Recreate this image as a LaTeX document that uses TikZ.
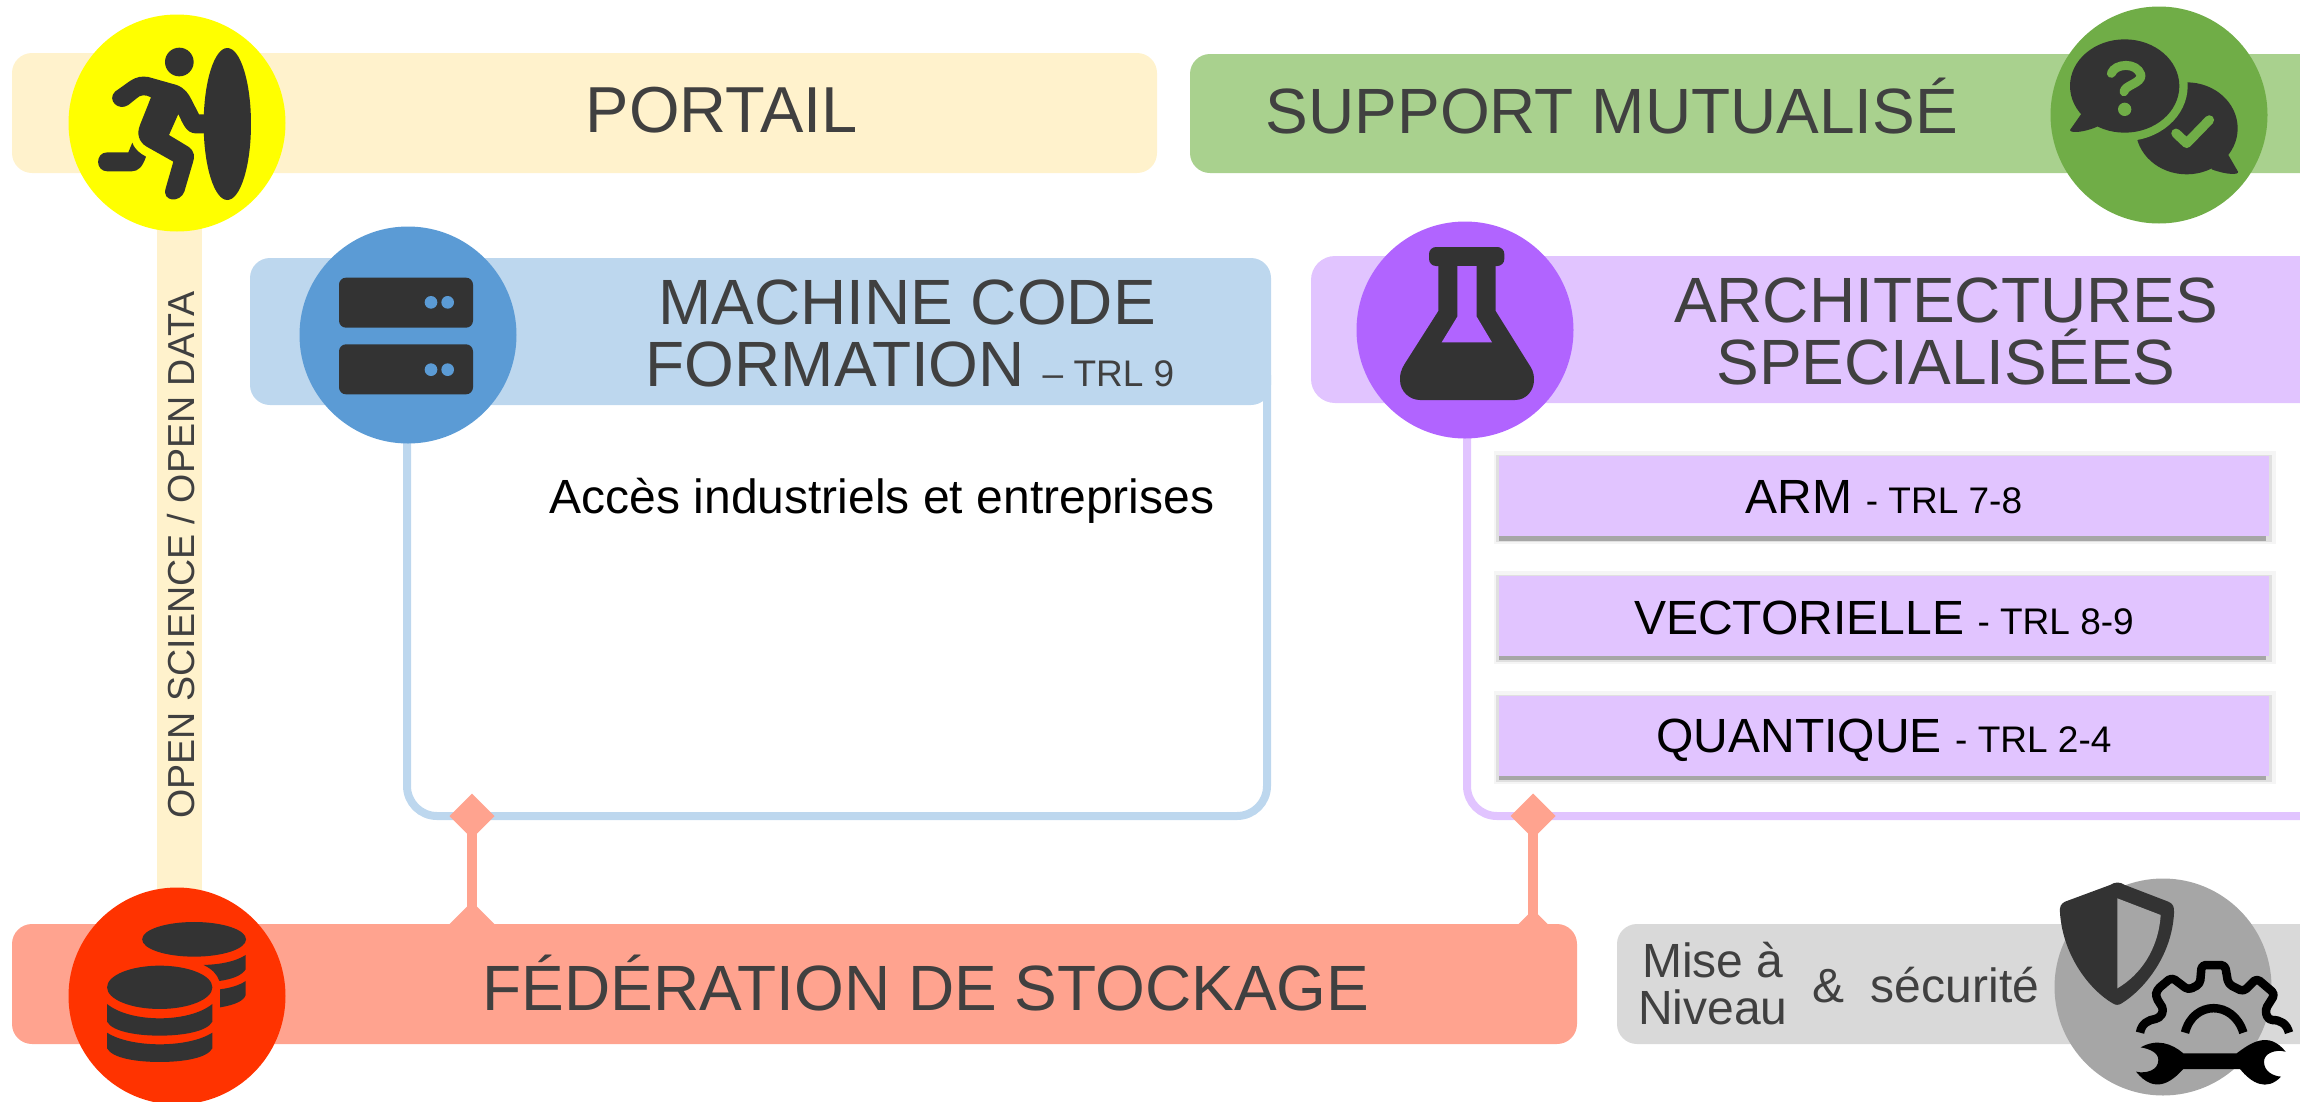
\documentclass[tikz,border=0pt]{standalone}
\usepackage{fontspec}
\setmainfont{Liberation Sans}
\usetikzlibrary{shapes.geometric}
\definecolor{portailL}{HTML}{FFF2CC}
\definecolor{portailD}{HTML}{FFFF00}
\definecolor{suppL}{HTML}{A9D18E}
\definecolor{suppD}{HTML}{70AD47}
\definecolor{machL}{HTML}{BDD7EE}
\definecolor{machD}{HTML}{5B9BD5}
\definecolor{archL}{HTML}{E1C4FF}
\definecolor{archD}{HTML}{B164FF}
\definecolor{fedL}{HTML}{FFA38F}
\definecolor{fedD}{HTML}{FF3300}
\definecolor{grayL}{HTML}{D9D9D9}
\definecolor{grayD}{HTML}{A6A6A6}
\definecolor{ink}{HTML}{333333}
\definecolor{txt}{HTML}{404040}
\newcommand{\fhuge}{\fontsize{65}{60}\selectfont}
\newcommand{\fbig}{\fontsize{64}{60}\selectfont}
\newcommand{\fmid}{\fontsize{48}{47}\selectfont}
\newcommand{\fsm}{\fontsize{37}{36}\selectfont}
\tikzset{
  bar/.style={inner sep=0pt,outer sep=0pt,rounded corners=20pt,minimum height=#1},
  disc/.style={circle,inner sep=0pt,outer sep=0pt,minimum size=217pt},
  tlabel/.style={inner sep=0pt,outer sep=0pt,anchor=base,align=center,text=txt},
  frameline/.style={line width=8pt,rounded corners=30pt},
  dia/.style={diamond,fill=fedL,inner sep=0pt,outer sep=0pt,minimum width=45pt,minimum height=45pt,aspect=1},
  link/.style={draw=fedL,line width=9.5pt},
  subbox/.style={fill=archL,inner sep=0pt,outer sep=0pt,minimum width=770pt,minimum height=80pt},
}
\begin{document}
\begin{tikzpicture}[x=1pt,y=-1pt]
\useasboundingbox (0,0) rectangle (2300,1101);
\clip (0,0) rectangle (2300,1101);
% bars
\node[bar=120pt,fill=portailL,minimum width=1145pt] (portail) at (584.5,113) {};
\fill[portailL] (157,200) rectangle (202,900);
\path[fill=suppL] (2300,173) [rounded corners=20pt] -- (1190,173) -- (1190,54) [sharp corners] -- (2300,54) -- cycle;
% frames
\draw[frameline,draw=machL] (407,400) -- (407,816) -- (1267,816) -- (1267,375);
\draw[frameline,draw=archL] (1467,400) -- (1467,816) -- (2300,816);
\node[bar=147pt,fill=machL,minimum width=1021pt] (machine) at (760.5,331.5) {};
\path[fill=archL] (2300,403) [rounded corners=24pt] -- (1311,403) -- (1311,256) [sharp corners] -- (2300,256) -- cycle;
\node[bar=120pt,fill=fedL,minimum width=1565pt] (fed) at (794.5,984) {};
\path[fill=grayL] (2300,1044) [rounded corners=20pt] -- (1617,1044) -- (1617,924) [sharp corners] -- (2300,924) -- cycle;
% sub boxes with shadow
\foreach \yy in {496,615.5,735.5}{
  \fill[black!4] (1494,\yy-45) rectangle (2276,\yy+48);
  \fill[black!12] (1496,\yy-41) rectangle (2272,\yy+46);
  \fill[black!35] (1499,\yy) rectangle (2266,\yy+44.5);
}
\node[subbox] (arm) at (1884,496) {};
\node[subbox] (vect) at (1884,615.5) {};
\node[subbox] (quant) at (1884,735.5) {};
% discs
\node[disc,fill=portailD] (d1) at (177,123) {};
\node[disc,fill=suppD] (d2) at (2159,115) {};
\node[disc,fill=machD] (d3) at (408,335) {};
\node[disc,fill=archD] (d4) at (1465,330) {};
\node[disc,fill=fedD] (d5) at (177,996) {};
\node[disc,fill=grayD] (d6) at (2163,987) {};
% connectors
\node[dia] (dia1) at (472,816) {};
\node[dia] (dia2) at (1533,816) {};
\node[dia] (foot1) at (472,924) {};
\node[dia] (foot2) at (1533,932) {};
\draw[link] (dia1.center) -- (foot1.center);
\draw[link] (dia2.center) -- (foot2.center);
% texts
\node[tlabel] (tportail) at (722,132) {\fhuge PORTAIL};
\node[tlabel] (tsupport) at (1612,133) {\fbig SUPPORT MUTUALISÉ};
\node[tlabel] (tm1) at (907,324) {\fbig MACHINE CODE};
\node[tlabel] (tm2) at (910,386) {\fbig FORMATION {\fsm – TRL 9}};
\node[tlabel] (ta1) at (1946,322) {\fbig ARCHITECTURES};
\node[tlabel] (ta2) at (1946,384) {\fbig SPECIALISÉES};
\node[tlabel,text=black] (tacc) at (882,513) {\fmid Accès industriels et entreprises};
\node[tlabel,text=black] (tarm) at (1884,513) {\fmid ARM {\fsm - TRL 7-8}};
\node[tlabel,text=black] (tvect) at (1884,634) {\fmid VECTORIELLE {\fsm - TRL 8-9}};
\node[tlabel,text=black] (tquant) at (1884,752) {\fmid QUANTIQUE {\fsm - TRL 2-4}};
\node[tlabel] (tfed) at (926,1010) {\fbig FÉDÉRATION DE STOCKAGE};
\node[tlabel] (tmise1) at (1713,977) {\fmid Mise à};
\node[tlabel] (tmise2) at (1713,1024) {\fmid Niveau};
\node[tlabel] (tamp) at (1828,1002) {\fmid \&};
\node[tlabel] (tsec) at (1955,1002) {\fmid sécurité};
\node[tlabel,rotate=90] (topen) at (194,555) {\fontsize{37.6}{38}\selectfont OPEN SCIENCE / OPEN DATA};
% runner icon
\begin{scope}[scale=1/3]
\fill[ink] (538,186) circle (43);
\fill[ink] (682,372) ellipse (71 and 228);
\fill[ink] (345,275) -- (390,243) .. controls (410,230) and (425,228) .. (445,231) -- (530,255) .. controls (555,265) and (565,280) .. (575,300) -- (597,343) -- (615,343) -- (615,400) -- (585,400) .. controls (560,398) and (550,375) .. (535,342) -- (507,405) -- (565,440) .. controls (585,455) and (585,470) .. (578,490) -- (553,575) .. controls (540,610) and (485,605) .. (497,565) -- (520,485) -- (440,440) .. controls (415,425) and (410,400) .. (420,375) -- (453,292) .. controls (435,282) and (420,285) .. (410,295) -- (385,315) .. controls (355,335) and (320,300) .. (345,275) -- cycle;
\fill[ink] (322,457) -- (385,457) -- (397,428) .. controls (405,450) and (420,460) .. (438,470) .. controls (428,500) and (415,514) .. (395,514) -- (322,514) .. controls (285,514) and (285,457) .. (322,457) -- cycle;
\end{scope}
% speech bubbles
\begin{scope}[shift={(1950,0)},scale=1/3]
\fill[ink] (710,385) ellipse (153 and 138);
\fill[ink] (835,465) -- (864,515) .. controls (868,525) and (830,525) .. (785,508) -- (780,470) -- cycle;
\fill[suppD] (524,258) ellipse (189 and 165);
\fill[ink] (524,258) ellipse (164 and 140);
\fill[ink] (395,340) -- (360,390) .. controls (360,400) and (400,398) .. (442,380) -- (440,340) -- cycle;
\draw[suppD,line width=9pt,line cap=round,line join=round] (484,220) .. controls (495,190) and (560,185) .. (573,225) .. controls (575,250) and (525,255) .. (522,275);
\fill[suppD] (524,328) circle (20);
\draw[suppD,line width=9.5pt,line cap=round,line join=round] (678,400) -- (710,430) -- (778,360);
\end{scope}
% server icon
\begin{scope}[shift={(250,200)},scale=1/3]
\fill[ink,rounded corners=7pt] (267,233) rectangle (669,383);
\fill[ink,rounded corners=7pt] (267,433) rectangle (669,583);
\fill[machD] (543,307) circle (19) (593,307) circle (19) (543,509) circle (19) (593,509) circle (19);
\end{scope}
% flask icon
\begin{scope}[shift={(1300,200)},scale=1/3]
\fill[ink,rounded corners=7pt] (387,141) rectangle (613,198);
\fill[ink] (415,190) -- (415,333) -- (315,490) .. controls (300,515) and (300,525) .. (300,540) .. controls (300,575) and (330,600) .. (360,600) -- (645,600) .. controls (680,600) and (702,570) .. (702,540) .. controls (702,515) and (695,505) .. (685,490) -- (587,333) -- (587,190) -- cycle;
\fill[archD] (472,198) -- (472,350) -- (425,427) -- (576,427) -- (530,350) -- (530,198) -- cycle;
\end{scope}
% database icon
\begin{scope}[shift={(0,780)},xscale=0.351,yscale=0.3333]
\fill[ink] (553,478) ellipse (148 and 52);
\fill[ink] (700,525) .. controls (670,545) and (630,553) .. (580,555) .. controls (605,568) and (618,582) .. (625,603) .. controls (665,597) and (690,585) .. (700,568) -- cycle;
\fill[ink] (700,603) .. controls (680,617) and (655,624) .. (627,628) -- (627,682) .. controls (670,675) and (695,662) .. (700,645) -- cycle;
\fill[ink] (455,622) ellipse (150 and 65);
\fill[ink] (305,672) .. controls (340,702) and (400,715) .. (455,715) .. controls (510,715) and (570,702) .. (605,672) -- (605,725) .. controls (590,755) and (520,767) .. (455,767) .. controls (390,767) and (320,755) .. (305,725) -- cycle;
\fill[ink] (305,758) .. controls (340,782) and (400,793) .. (455,793) .. controls (510,793) and (570,782) .. (605,758) -- (605,805) .. controls (590,835) and (520,846) .. (455,846) .. controls (390,846) and (320,835) .. (305,805) -- cycle;
\end{scope}
% shield + gear + wrench
\begin{scope}[shift={(1950,850)},scale=1/3]
\fill[ink] (480,105) .. controls (495,95) and (510,95) .. (525,105) -- (655,155) .. controls (670,162) and (673,170) .. (672,190) .. controls (665,320) and (580,420) .. (515,460) .. controls (505,466) and (498,466) .. (488,460) .. controls (420,420) and (340,320) .. (330,190) .. controls (328,170) and (332,162) .. (345,155) -- cycle;
\fill[grayD] (502,145) -- (632,195) .. controls (625,300) and (570,375) .. (502,415) -- cycle;
\draw[black,line width=8.5pt,line join=round,rounded corners=4pt] (570,548) .. controls (575,520) and (595,510) .. (628,505) -- (642,480) -- (617,440) -- (620,420) -- (665,382) -- (715,420) -- (750,402) -- (755,345) -- (825,345) -- (835,402) -- (880,425) -- (920,385) -- (975,432) -- (945,480) -- (955,510) .. controls (990,510) and (1010,520) .. (1017,548);
\draw[black,line width=8.5pt] (705,548) .. controls (730,450) and (850,450) .. (880,548);
\fill[black] (572,592) .. controls (620,565) and (665,580) .. (700,610) -- (860,610) .. controls (900,580) and (955,540) .. (1007,605) .. controls (975,597) and (942,610) .. (942,635) .. controls (942,665) and (970,678) .. (993,680) .. controls (950,725) and (905,700) .. (870,657) -- (700,657) .. controls (665,695) and (615,735) .. (558,665) .. controls (590,672) and (625,660) .. (625,630) .. controls (625,608) and (600,597) .. (572,592) -- cycle;
\end{scope}
\end{tikzpicture}
\end{document}
